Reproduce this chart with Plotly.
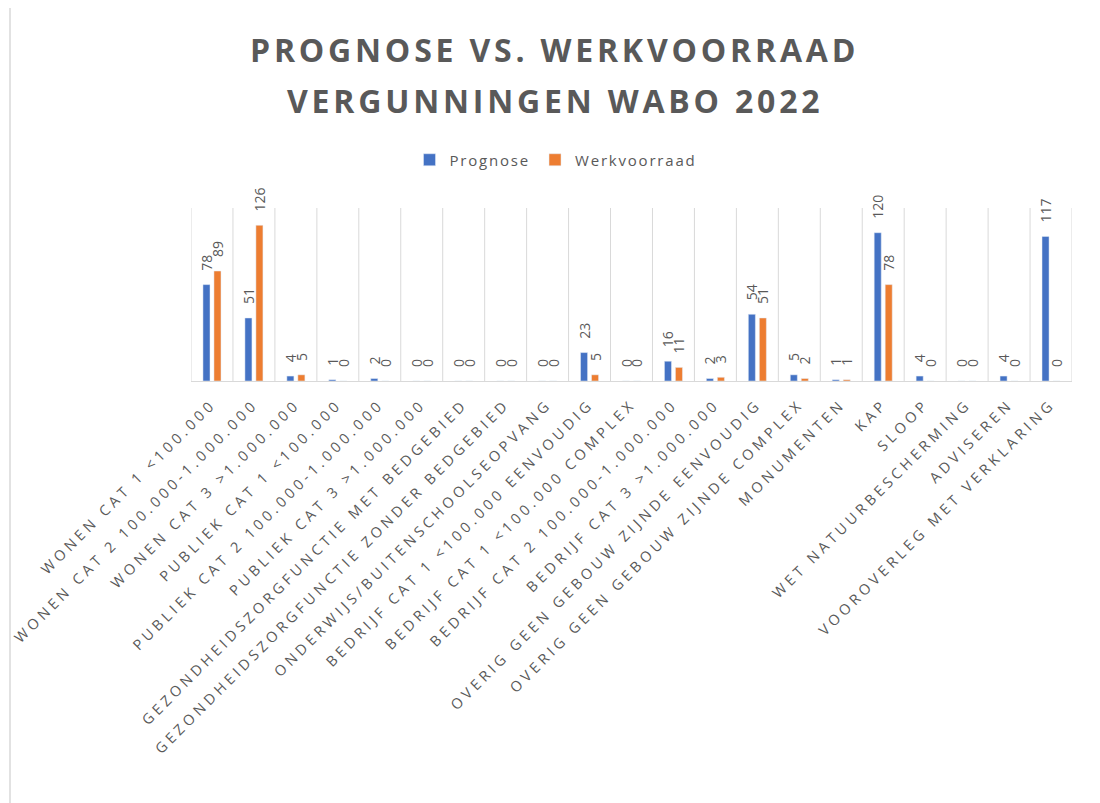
import plotly.graph_objects as go

categories = [
    "WONEN CAT 1 <100.000",
    "WONEN CAT 2 100.000-1.000.000",
    "WONEN CAT 3 >1.000.000",
    "PUBLIEK CAT 1 <100.000",
    "PUBLIEK CAT 2 100.000-1.000.000",
    "PUBLIEK CAT 3 >1.000.000",
    "GEZONDHEIDSZORGFUNCTIE MET BEDGEBIED",
    "GEZONDHEIDSZORGFUNCTIE ZONDER BEDGEBIED",
    "ONDERWIJS/BUITENSCHOOLSEOPVANG",
    "BEDRIJF CAT 1 <100.000 EENVOUDIG",
    "BEDRIJF CAT 1 <100.000 COMPLEX",
    "BEDRIJF CAT 2 100.000-1.000.000",
    "BEDRIJF CAT 3 >1.000.000",
    "OVERIG GEEN GEBOUW ZIJNDE EENVOUDIG",
    "OVERIG GEEN GEBOUW ZIJNDE COMPLEX",
    "MONUMENTEN",
    "KAP",
    "SLOOP",
    "WET NATUURBESCHERMING",
    "ADVISEREN",
    "VOOROVERLEG MET VERKLARING",
]
prognose = [78, 51, 4, 1, 2, 0, 0, 0, 0, 23, 0, 16, 2, 54, 5, 1, 120, 4, 0, 4, 117]
werkvoorraad = [89, 126, 5, 0, 0, 0, 0, 0, 0, 5, 0, 11, 3, 51, 2, 1, 78, 0, 0, 0, 0]
title_lines = ["PROGNOSE VS. WERKVOORRAAD", "VERGUNNINGEN WABO 2022"]
series_names = ["Prognose", "Werkvoorraad"]

OFF = 8  # page body margin
W, H = 1100, 803
L = 191 - OFF
T = 208 - OFF
B = H - (381 - OFF)
R = W - (1072 - OFF)
PW, PH = W - L - R, H - T - B


def px_x(x):
    return (x - OFF - L) / PW


def px_y(y):
    return (H - B - (y - OFF)) / PH


def esc(s):
    return s.replace("&", "&amp;").replace("<", "&lt;").replace(">", "&gt;")


def spaced(s, ls):
    return '<span style="letter-spacing:%spx">%s</span>' % (ls, esc(s))


def label(v):
    # leading non-breaking spaces mimic the label offset above the bar end
    return "\u00a0\u00a0\u00a0" + str(v)


GRAY = "#595959"
idx = list(range(len(categories)))

fig = go.Figure()
fig.add_trace(go.Bar(
    x=idx, y=prognose, name=spaced(series_names[0], 1.8),
    marker_color="#4472C4",
    text=[label(v) for v in prognose], textposition="outside", textangle=-90,
    textfont=dict(family="Open Sans", size=14, color=GRAY),
    constraintext="none", cliponaxis=False,
))
fig.add_trace(go.Bar(
    x=idx, y=werkvoorraad, name=spaced(series_names[1], 1.8),
    marker_color="#ED7D31",
    text=[label(v) for v in werkvoorraad], textposition="outside", textangle=-90,
    textfont=dict(family="Open Sans", size=14, color=GRAY),
    constraintext="none", cliponaxis=False,
))

fig.update_layout(
    width=W, height=H,
    margin=dict(l=L, r=R, t=T, b=B, autoexpand=False),
    paper_bgcolor="white", plot_bgcolor="white",
    barmode="group", bargap=0.476, bargroupgap=0.36,
    showlegend=True,
    legend=dict(orientation="h", x=px_x(556), xanchor="center",
                y=px_y(160), yanchor="middle",
                font=dict(family="Open Sans", size=15, color=GRAY),
                bgcolor="rgba(0,0,0,0)"),
    font=dict(family="Open Sans", color=GRAY),
)
fig.update_xaxes(
    type="linear", range=[-0.5, len(categories) - 0.5],
    tickmode="array", tickvals=idx,
    ticktext=[spaced(c, 3.9) for c in categories],
    tickangle=-45, ticks="", ticklabelstandoff=8, ticklabeloverflow="allow",
    tickfont=dict(family="Open Sans", size=14.5, color=GRAY),
    showgrid=False, showline=True, linecolor="#d9d9d9", linewidth=1,
    zeroline=False, automargin=False, fixedrange=True,
)
fig.update_yaxes(range=[0, 140], visible=False, showgrid=False, fixedrange=True)

# category boundary gridlines
for b in [i - 0.5 for i in range(len(categories) + 1)]:
    fig.add_shape(type="line", xref="x", yref="paper", x0=b, x1=b, y0=0, y1=1,
                  line=dict(color="#d9d9d9", width=1), layer="below")

# chart border
fig.add_shape(type="rect", xref="paper", yref="paper",
              x0=px_x(10), x1=px_x(1099), y0=px_y(820), y1=px_y(7),
              line=dict(color="#d9d9d9", width=1.5), layer="below")

for line, yc in zip(title_lines, [49, 100]):
    fig.add_annotation(text=spaced(line, 3.8), xref="paper", yref="paper",
                       x=px_x(554.5), y=px_y(yc), xanchor="center", yanchor="middle",
                       showarrow=False,
                       font=dict(family="Open Sans", size=32, color=GRAY, weight="bold"))

fig.write_html("out.html")
